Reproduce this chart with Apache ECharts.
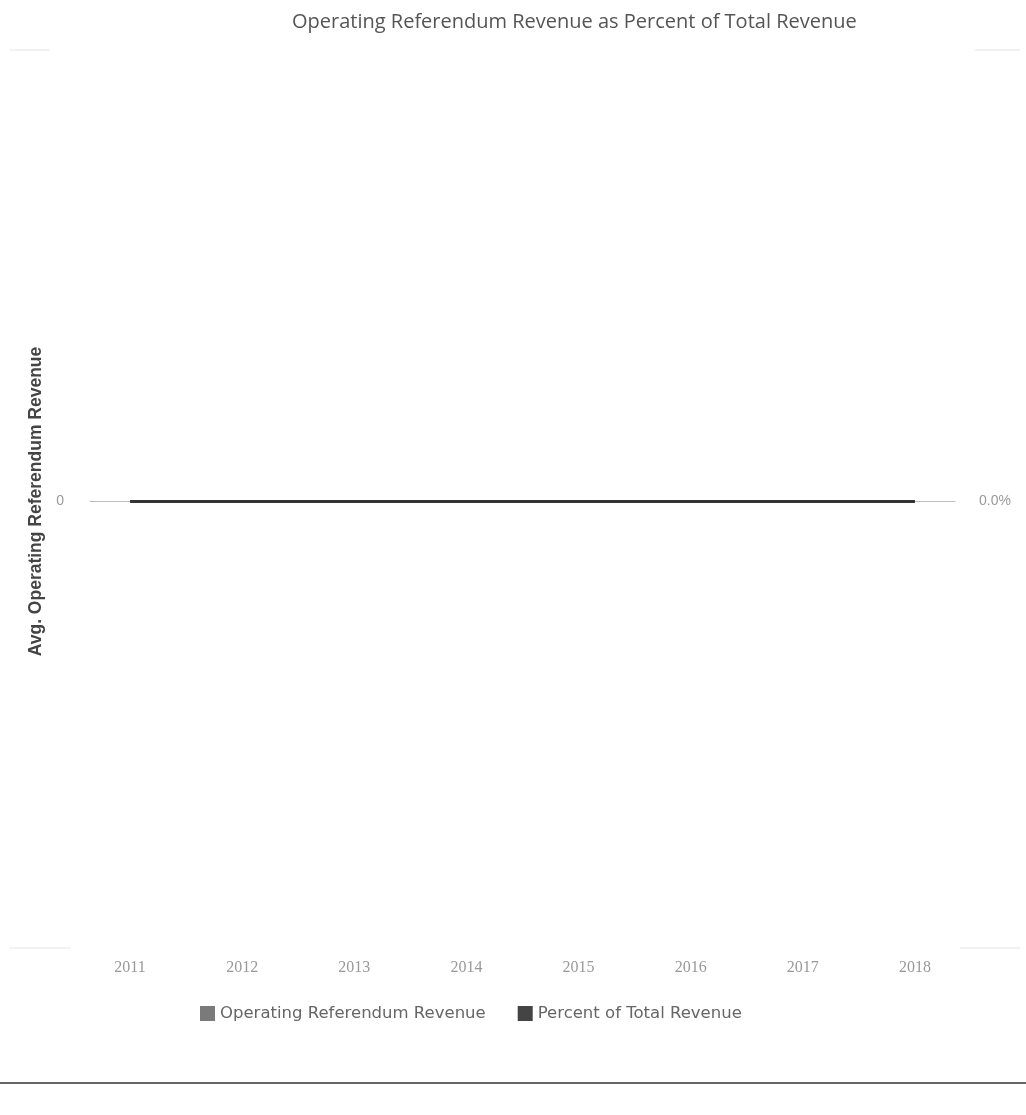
<!DOCTYPE html>
<html><head><meta charset="utf-8">
<script src="https://cdn.jsdelivr.net/npm/echarts@6/dist/echarts.min.js"></script>
<style>html,body{margin:0;padding:0;background:#fff}#c{width:1026px;height:1115px}</style>
</head><body><div id="c"></div>
<script>
const years = ['2011','2012','2013','2014','2015','2016','2017','2018'];
const referendumRevenue = [0,0,0,0,0,0,0,0];
const percentOfTotal = [0,0,0,0,0,0,0,0];
const leftTicks = [0];
const rightTicks = ['0.0%'];

const chart = echarts.init(document.getElementById('c'));
chart.setOption({
  animation: false,
  backgroundColor: '#ffffff',
  title: {
    text: 'Operating Referendum Revenue as Percent of Total Revenue',
    left: 287, top: 7,
    textStyle: {fontFamily: 'Open Sans', fontSize: 20, fontWeight: 'normal', color: '#555'}
  },
  legend: {
    bottom: 88, left: 195,
    itemWidth: 15, itemHeight: 15, itemGap: 32,
    textStyle: {fontFamily: 'DejaVu Sans', fontSize: 16.5, color: '#666'},
    data: [
      {name: 'Operating Referendum Revenue', icon: 'rect', itemStyle: {color: '#7a7a7a'}},
      {name: 'Percent of Total Revenue', icon: 'rect', itemStyle: {color: '#444'}}
    ]
  },
  grid: [
    {left: 74, right: 55, top: 55, bottom: 167},
    {left: 90, right: 71, top: 55, bottom: 167}
  ],
  xAxis: [
    {
      type: 'category', data: years, boundaryGap: true, gridIndex: 0,
      axisLine: {show: false}, axisTick: {show: false},
      axisLabel: {show: true, color: '#999', fontFamily: 'Liberation Serif', fontSize: 16, margin: 12}
    },
    {
      type: 'value', gridIndex: 1, min: 0, max: 1,
      axisLine: {show: true, onZero: true, lineStyle: {color: '#bbb', width: 1}},
      axisTick: {show: false}, axisLabel: {show: false}, splitLine: {show: false}
    }
  ],
  yAxis: [
    {
      type: 'value', gridIndex: 0, min: -1, max: 1, interval: 1,
      name: 'Avg. Operating Referendum Revenue', nameLocation: 'middle', nameGap: 28,
      nameTextStyle: {fontFamily: 'Liberation Sans', fontSize: 17.5, fontWeight: 'bold', color: '#444'},
      axisLine: {show: false}, axisTick: {show: false}, splitLine: {show: false},
      axisLabel: {color: '#999', fontSize: 14, margin: 10,
        formatter: v => leftTicks.includes(v) ? String(v) : ''}
    },
    {
      type: 'value', gridIndex: 0, min: -1, max: 1, interval: 1, position: 'right',
      axisLine: {show: false}, axisTick: {show: false}, splitLine: {show: false},
      axisLabel: {color: '#999', fontSize: 14, margin: 8,
        formatter: v => v === 0 ? rightTicks[0] : ''}
    },
    {
      type: 'value', gridIndex: 1, min: -1, max: 1,
      axisLine: {show: false}, axisTick: {show: false}, splitLine: {show: false}, axisLabel: {show: false}
    }
  ],
  series: [
    {
      name: 'Operating Referendum Revenue', type: 'bar', xAxisIndex: 0, yAxisIndex: 0,
      data: referendumRevenue, itemStyle: {color: '#7a7a7a'}, barWidth: 60
    },
    {
      name: 'Percent of Total Revenue', type: 'line', xAxisIndex: 0, yAxisIndex: 1,
      data: percentOfTotal, symbol: 'none', z: 5,
      lineStyle: {color: '#333', width: 3}, itemStyle: {color: '#444'}
    }
  ],
  graphic: [
    {type: 'line', shape: {x1: 10, y1: 50, x2: 50, y2: 50}, style: {stroke: '#e4e4e4', lineWidth: 1}},
    {type: 'line', shape: {x1: 975, y1: 50, x2: 1020, y2: 50}, style: {stroke: '#e4e4e4', lineWidth: 1}},
    {type: 'line', shape: {x1: 10, y1: 948, x2: 70, y2: 948}, style: {stroke: '#e4e4e4', lineWidth: 1}},
    {type: 'line', shape: {x1: 960, y1: 948, x2: 1020, y2: 948}, style: {stroke: '#e4e4e4', lineWidth: 1}},
    {type: 'line', shape: {x1: 0, y1: 1083, x2: 1026, y2: 1083}, style: {stroke: '#333', lineWidth: 1.5}}
  ]
});
</script></body></html>
